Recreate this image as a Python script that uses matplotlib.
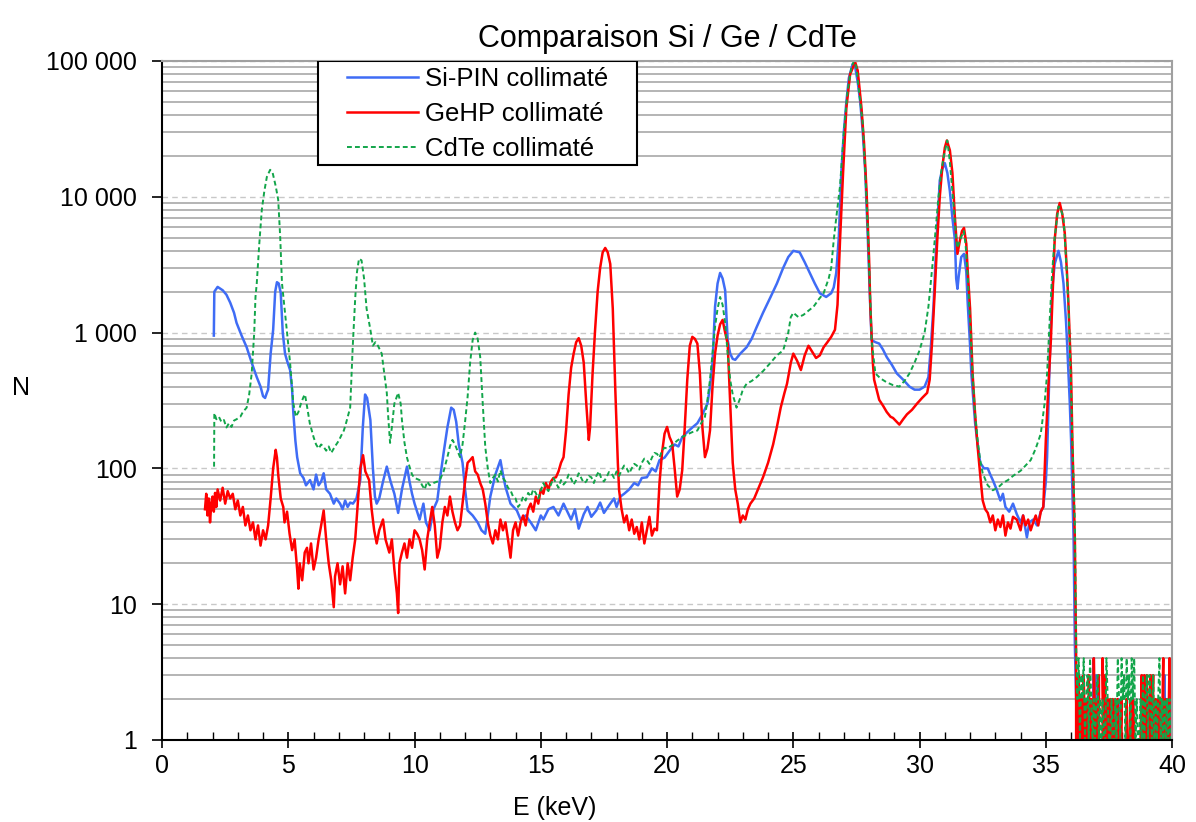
import numpy as np
import matplotlib
matplotlib.use('Agg')
import matplotlib.pyplot as plt
from matplotlib.patches import Rectangle
from matplotlib.ticker import MultipleLocator, LogLocator, FuncFormatter, NullFormatter

plt.rcParams['font.family'] = ['Liberation Sans', 'DejaVu Sans']

# Si-PIN collimaté (keV, coups)
e_si = [2.05, 2.07, 2.2, 2.4, 2.55, 2.7, 2.85, 2.95, 3.15, 3.35, 3.55, 3.75, 3.9, 4.0, 4.08, 4.15, 4.2,
        4.3, 4.4, 4.48, 4.55, 4.62, 4.7, 4.78, 4.87, 4.95, 5.07, 5.15, 5.2, 5.28, 5.35, 5.47, 5.6, 5.7,
        5.86, 6.0, 6.1, 6.2, 6.3, 6.4, 6.5, 6.65, 6.8, 6.9, 7.05, 7.15, 7.25, 7.35, 7.45, 7.56, 7.7,
        7.85, 7.95, 8.04, 8.12, 8.25, 8.35, 8.43, 8.5, 8.6, 8.75, 8.9, 9.05, 9.2, 9.35, 9.5, 9.7, 9.8,
        9.9, 10.0, 10.2, 10.35, 10.45, 10.6, 10.75, 10.9, 11.0, 11.15, 11.3, 11.45, 11.55, 11.65, 11.75,
        11.9, 12.0, 12.1, 12.3, 12.5, 12.65, 12.8, 12.9, 13.0, 13.2, 13.4, 13.5, 13.6, 13.8, 14.05, 14.2,
        14.4, 14.6, 14.8, 15.0, 15.1, 15.3, 15.5, 15.7, 15.9, 16.05, 16.2, 16.35, 16.5, 16.7, 16.85, 17.0,
        17.2, 17.35, 17.5, 17.75, 17.9, 18.0, 18.15, 18.3, 18.5, 18.7, 18.85, 19.0, 19.2, 19.4, 19.55,
        19.7, 19.9, 20.1, 20.3, 20.45, 20.6, 20.8, 21.0, 21.2, 21.4, 21.6, 21.7, 21.8, 21.9, 22.0, 22.1,
        22.2, 22.3, 22.4, 22.5, 22.6, 22.7, 22.9, 23.15, 23.35, 23.55, 23.8, 24.1, 24.35, 24.6, 24.8,
        25.0, 25.25, 25.45, 25.65, 25.85, 26.05, 26.3, 26.5, 26.6, 26.7, 26.8, 26.9, 27.0, 27.1, 27.2,
        27.35, 27.45, 27.55, 27.65, 27.75, 27.85, 27.95, 28.05, 28.1, 28.25, 28.4, 28.55, 28.7, 28.9,
        29.1, 29.35, 29.6, 29.8, 30.0, 30.2, 30.35, 30.45, 30.55, 30.65, 30.8, 30.9, 31.0, 31.1, 31.2,
        31.3, 31.4, 31.45, 31.5, 31.55, 31.65, 31.76, 31.85, 31.9, 32.0, 32.05, 32.2, 32.3, 32.4, 32.55,
        32.7, 32.8, 32.9, 33.05, 33.2, 33.3, 33.4, 33.55, 33.7, 33.85, 34.0, 34.1, 34.25, 34.35, 34.5,
        34.65, 34.8, 34.9, 35.0, 35.05, 35.15, 35.25, 35.35, 35.5, 35.6, 35.7, 35.8, 35.85, 35.95, 36.0,
        36.1, 36.15]
n_si = [950, 2000, 2170, 2050, 1900, 1660, 1400, 1180, 950, 780, 600, 470, 400, 340, 330, 360, 380,
        700, 1050, 2000, 2350, 2300, 1960, 1000, 700, 620, 530, 380, 255, 160, 121, 92, 85, 75,
        82, 70, 90, 75, 80, 92, 70, 65, 55, 60, 55, 50, 58, 52, 56, 55, 60,
        82, 200, 350, 330, 227, 100, 62, 55, 60, 80, 103, 80, 65, 47, 70, 103, 80,
        65, 55, 42, 55, 40, 35, 50, 58, 82, 130, 200, 280, 270, 220, 150,
        110, 70, 49, 45, 40, 35, 33, 45, 62, 90, 115, 90, 73, 55, 49, 42,
        45, 40, 35, 45, 42, 50, 52, 45, 55, 48, 42, 50, 36, 46, 52, 44,
        49, 56, 47, 55, 60, 52, 62, 65, 70, 78, 75, 85, 86, 100, 95,
        115, 120, 135, 150, 145, 170, 185, 200, 215, 250, 300, 400, 600, 1550, 2300, 2750,
        2500, 2050, 880, 700, 640, 630, 700, 780, 900, 1100, 1400, 1830, 2300, 3000, 3600,
        4000, 3900, 3300, 2750, 2300, 1950, 1830, 1950, 2150, 2750, 5000, 15000, 30000, 50000, 75000,
        95000, 90000, 70000, 50000, 30000, 15000, 5000, 1500, 880, 850, 830, 750, 660, 580,
        500, 450, 400, 380, 380, 400, 470, 800, 1550, 4000, 13200, 16000, 17700, 15000, 11000,
        7000, 4800, 2500, 2100, 2600, 3600, 3800, 2800, 1730, 800, 500, 215, 150, 110, 100,
        100, 90, 82, 70, 58, 65, 52, 48, 55, 46, 40, 45, 31, 40, 42,
        38, 48, 52, 80, 121, 600, 2050, 3200, 4000, 3300, 2300, 1200, 780, 300, 162,
        30, 5]
tail_si = [2, 1, 3, 0, 1, 2, 0, 1, 0, 1, 0, 1, 0, 1, 4, 0, 3, 1, 0, 1,
           0, 1, 0, 1, 0, 0, 1, 0, 1, 0, 1, 0, 1, 0, 0, 2, 0, 1, 0, 1,
           0, 1, 0, 2, 0, 2, 0, 1, 0, 1, 0, 1, 0, 1, 0, 1, 0, 1, 0, 1,
           0, 1, 0, 1, 0, 1, 0, 1, 0, 1, 3, 0, 2, 1, 0, 2, 1]

# GeHP collimaté
e_ge = [1.7, 1.75, 1.8, 1.85, 1.9, 1.95, 2.0, 2.05, 2.1, 2.15, 2.2, 2.3, 2.4, 2.5, 2.6, 2.7, 2.8, 2.9,
        3.0, 3.1, 3.2, 3.3, 3.4, 3.5, 3.6, 3.7, 3.8, 3.9, 4.0, 4.1, 4.2, 4.3, 4.4, 4.5, 4.55, 4.6, 4.7,
        4.8, 4.85, 4.95, 5.05, 5.15, 5.25, 5.35, 5.4, 5.45, 5.55, 5.65, 5.74, 5.8, 5.9, 6.0, 6.1, 6.2,
        6.3, 6.4, 6.5, 6.6, 6.7, 6.8, 6.85, 6.95, 7.05, 7.15, 7.25, 7.35, 7.45, 7.55, 7.65, 7.75, 7.85,
        7.96, 8.05, 8.2, 8.3, 8.4, 8.5, 8.6, 8.75, 8.85, 9.0, 9.1, 9.2, 9.3, 9.35, 9.4, 9.5, 9.6, 9.7,
        9.8, 9.9, 10.0, 10.1, 10.2, 10.3, 10.4, 10.5, 10.6, 10.7, 10.8, 10.9, 11.0, 11.1, 11.2, 11.3,
        11.4, 11.5, 11.6, 11.7, 11.8, 11.9, 12.0, 12.1, 12.2, 12.3, 12.4, 12.5, 12.6, 12.7, 12.8, 12.9,
        13.0, 13.1, 13.2, 13.3, 13.4, 13.5, 13.6, 13.7, 13.8, 13.9, 14.0, 14.1, 14.2, 14.3, 14.4, 14.5,
        14.6, 14.7, 14.8, 14.9, 15.0, 15.1, 15.2, 15.3, 15.4, 15.5, 15.6, 15.7, 15.8, 15.9, 16.0, 16.1,
        16.2, 16.3, 16.4, 16.5, 16.6, 16.7, 16.8, 16.9, 16.95, 17.05, 17.15, 17.25, 17.35, 17.45, 17.55,
        17.65, 17.75, 17.85, 17.95, 18.05, 18.1, 18.2, 18.3, 18.4, 18.5, 18.6, 18.7, 18.8, 18.9, 19.0,
        19.1, 19.2, 19.3, 19.4, 19.5, 19.6, 19.7, 19.8, 19.9, 20.0, 20.1, 20.2, 20.3, 20.4, 20.5, 20.6,
        20.7, 20.8, 20.9, 21.0, 21.1, 21.2, 21.3, 21.4, 21.5, 21.6, 21.7, 21.8, 21.9, 22.0, 22.1, 22.2,
        22.3, 22.4, 22.5, 22.6, 22.7, 22.8, 22.9, 23.0, 23.1, 23.2, 23.3, 23.45, 23.6, 23.8, 24.0, 24.2,
        24.35, 24.5, 24.65, 24.75, 24.9, 25.0, 25.15, 25.3, 25.45, 25.6, 25.75, 25.9, 26.05, 26.2, 26.35,
        26.5, 26.65, 26.75, 26.85, 26.97, 27.1, 27.25, 27.45, 27.55, 27.7, 27.8, 27.9, 28.0, 28.05,
        28.15, 28.2, 28.3, 28.4, 28.55, 28.7, 28.85, 28.95, 29.1, 29.2, 29.35, 29.5, 29.7, 29.9, 30.1,
        30.3, 30.4, 30.5, 30.6, 30.7, 30.8, 30.9, 31.0, 31.08, 31.2, 31.3, 31.4, 31.5, 31.6, 31.68,
        31.76, 31.85, 31.9, 32.0, 32.1, 32.2, 32.3, 32.4, 32.5, 32.6, 32.7, 32.8, 32.9, 33.0, 33.1,
        33.2, 33.3, 33.4, 33.5, 33.6, 33.7, 33.85, 34.0, 34.1, 34.2, 34.3, 34.4, 34.5, 34.6, 34.7,
        34.8, 34.9, 35.0, 35.1, 35.2, 35.35, 35.45, 35.55, 35.65, 35.75, 35.85, 35.9, 36.0, 36.05, 36.15]
n_ge = [50, 65, 45, 60, 40, 55, 62, 48, 66, 52, 70, 58, 72, 55, 68, 60, 65, 50,
        58, 45, 52, 38, 45, 35, 40, 30, 38, 27, 35, 30, 38, 60, 100, 137, 120, 90, 60,
        52, 40, 48, 33, 25, 30, 18, 13, 20, 15, 24, 26, 20, 28, 18, 22, 30,
        38, 49, 30, 20, 15, 9.5, 16, 20, 14, 19, 12, 20, 15, 22, 30, 55, 100,
        125, 95, 82, 50, 35, 28, 35, 42, 30, 24, 30, 18, 12, 8.6, 20, 24, 28, 22,
        30, 26, 35, 33, 30, 25, 18, 30, 40, 52, 38, 22, 26, 40, 52, 45,
        62, 48, 40, 35, 38, 55, 80, 110, 115, 121, 95, 90, 78, 70, 55, 40,
        32, 28, 35, 30, 42, 35, 40, 30, 22, 35, 40, 32, 40, 45, 38, 50,
        55, 48, 62, 55, 70, 65, 78, 70, 80, 85, 86, 95, 110, 121, 190, 350,
        550, 700, 850, 910, 800, 600, 300, 162, 200, 500, 1050, 2000, 3000, 3900, 4200,
        3900, 3200, 1500, 380, 110, 69, 50, 40, 45, 35, 42, 33, 37, 30, 40,
        28, 35, 44, 32, 36, 35, 78, 130, 180, 202, 170, 154, 100, 62, 70, 97,
        200, 450, 800, 930, 900, 830, 500, 200, 121, 140, 190, 400, 700, 950, 1150, 1240,
        1000, 830, 300, 110, 70, 55, 40, 45, 42, 50, 55, 60, 70, 86, 110, 150,
        202, 280, 360, 420, 600, 700, 620, 530, 680, 800, 720, 650, 680, 780, 850,
        930, 1050, 1600, 4800, 15000, 45000, 80000, 98000, 85000, 45000, 25000, 11000, 3500, 1550,
        600, 450, 380, 320, 290, 260, 240, 235, 220, 210, 230, 250, 270, 300, 330,
        360, 450, 880, 2000, 4800, 10000, 16500, 23000, 26000, 22000, 15000, 7000, 3800, 4800, 5600,
        5900, 4500, 3000, 1500, 500, 250, 144, 90, 58, 50, 47, 40, 45, 35, 42,
        37, 45, 32, 40, 36, 44, 42, 35, 45, 38, 42, 35, 40, 45, 38,
        48, 52, 162, 400, 880, 4800, 7500, 9000, 7500, 5400, 2500, 1550, 500, 162, 30]
tail_ge = [4, 0, 3, 1, 2, 0, 3, 1, 2, 0, 3, 1, 2, 0, 4, 1, 2, 0, 3, 0,
           0, 4, 1, 3, 0, 2, 1, 2, 0, 2, 1, 2, 0, 2, 0, 1, 2, 0, 1, 0,
           2, 0, 1, 2, 0, 2, 1, 0, 1, 0, 0, 1, 3, 0, 3, 1, 3, 0, 2, 3,
           1, 3, 0, 2, 1, 2, 0, 2, 1, 4, 0, 2, 0, 1, 4, 0, 1]

# CdTe collimaté
e_cd = [2.06, 2.07, 2.15, 2.25, 2.35, 2.45, 2.55, 2.65, 2.75, 2.85, 2.95, 3.1, 3.2, 3.35, 3.45, 3.55,
        3.65, 3.7, 3.75, 3.85, 3.95, 4.05, 4.15, 4.28, 4.38, 4.5, 4.6, 4.68, 4.75, 4.87, 4.95, 5.07,
        5.2, 5.3, 5.4, 5.5, 5.6, 5.66, 5.75, 5.85, 6.0, 6.1, 6.2, 6.3, 6.4, 6.5, 6.6, 6.7, 6.8, 6.9,
        7.0, 7.1, 7.2, 7.3, 7.45, 7.55, 7.65, 7.72, 7.8, 7.9, 8.0, 8.1, 8.25, 8.35, 8.45, 8.55, 8.7,
        8.8, 8.9, 8.95, 9.03, 9.1, 9.2, 9.35, 9.45, 9.5, 9.6, 9.7, 9.8, 9.9, 10.0, 10.2, 10.3, 10.4,
        10.5, 10.6, 10.75, 10.9, 11.0, 11.15, 11.3, 11.4, 11.5, 11.6, 11.7, 11.8, 11.9, 12.0, 12.1,
        12.2, 12.3, 12.4, 12.5, 12.6, 12.7, 12.8, 12.9, 13.0, 13.1, 13.2, 13.3, 13.4, 13.5, 13.6, 13.7,
        13.8, 13.9, 14.0, 14.1, 14.2, 14.3, 14.4, 14.5, 14.6, 14.7, 14.8, 14.9, 15.0, 15.1, 15.2, 15.3,
        15.4, 15.5, 15.6, 15.7, 15.8, 15.9, 16.0, 16.1, 16.2, 16.3, 16.4, 16.5, 16.6, 16.7, 16.8, 16.9,
        17.0, 17.1, 17.2, 17.3, 17.4, 17.5, 17.6, 17.7, 17.8, 17.9, 18.0, 18.1, 18.2, 18.3, 18.4, 18.5,
        18.6, 18.7, 18.8, 18.9, 19.0, 19.1, 19.2, 19.3, 19.4, 19.5, 19.6, 19.7, 19.8, 19.9, 20.0, 20.2,
        20.4, 20.6, 20.8, 21.0, 21.2, 21.35, 21.5, 21.6, 21.7, 21.8, 21.9, 22.0, 22.1, 22.2, 22.3, 22.4,
        22.5, 22.6, 22.75, 22.9, 23.0, 23.15, 23.35, 23.55, 23.8, 24.1, 24.35, 24.6, 24.8, 24.9, 25.0,
        25.2, 25.4, 25.6, 25.8, 26.0, 26.2, 26.4, 26.5, 26.6, 26.7, 26.85, 27.0, 27.15, 27.3, 27.4,
        27.5, 27.6, 27.75, 27.85, 27.97, 28.1, 28.25, 28.45, 28.7, 28.95, 29.2, 29.4, 29.6, 29.8, 30.0,
        30.2, 30.35, 30.5, 30.6, 30.75, 30.85, 30.95, 31.1, 31.2, 31.3, 31.35, 31.45, 31.5, 31.6, 31.75,
        31.82, 31.9, 32.0, 32.1, 32.2, 32.3, 32.4, 32.5, 32.7, 32.9, 33.1, 33.3, 33.5, 33.7, 33.85,
        34.0, 34.2, 34.4, 34.6, 34.8, 34.95, 35.05, 35.15, 35.25, 35.35, 35.5, 35.6, 35.7, 35.8, 35.9,
        36.0, 36.05, 36.15]
n_cd = [103, 255, 230, 240, 220, 227, 200, 215, 202, 225, 230, 240, 260, 280, 350, 500,
        1000, 1830, 2300, 4500, 8000, 11000, 14000, 15800, 15000, 12000, 9500, 5000, 2300, 1400, 1000, 600,
        300, 240, 260, 300, 335, 350, 280, 215, 170, 150, 140, 150, 144, 135, 145, 130, 140, 150,
        160, 175, 190, 220, 280, 780, 1800, 2800, 3500, 3400, 2500, 1500, 1050, 800, 850, 800, 700,
        500, 360, 250, 154, 200, 300, 360, 300, 227, 155, 120, 103, 90, 85, 82, 75, 70,
        80, 75, 78, 80, 82, 95, 121, 145, 162, 150, 135, 121, 150, 220, 335,
        600, 880, 1000, 900, 660, 300, 144, 100, 78, 85, 90, 80, 97, 85, 80, 72,
        69, 62, 60, 52, 55, 62, 58, 66, 62, 70, 66, 60, 69, 78, 72, 68,
        76, 85, 78, 72, 82, 76, 80, 90, 84, 76, 82, 92, 85, 78, 80, 88,
        86, 78, 88, 95, 84, 80, 86, 94, 92, 85, 95, 88, 97, 105, 100, 92,
        100, 108, 105, 98, 110, 118, 115, 108, 120, 130, 128, 120, 135, 142, 140, 148,
        160, 170, 178, 185, 190, 215, 240, 320, 450, 700, 1100, 1500, 1830, 1600, 1180, 700,
        450, 350, 280, 330, 380, 420, 440, 470, 520, 600, 680, 740, 1000, 1300, 1400,
        1300, 1350, 1450, 1550, 1750, 1950, 2500, 3000, 4800, 7000, 12000, 30000, 60000, 90000, 100000,
        90000, 60000, 35000, 15000, 4800, 880, 500, 460, 430, 410, 400, 440, 500, 600, 740,
        1000, 1550, 3000, 4800, 10000, 15000, 19500, 26000, 18000, 11000, 8500, 5000, 4200, 4800, 5600,
        4500, 2750, 1200, 500, 250, 160, 115, 92, 75, 69, 72, 78, 82, 88, 92,
        96, 105, 115, 140, 180, 300, 500, 1200, 2750, 5000, 8500, 8000, 7000, 3500, 1550,
        400, 162, 40]
tail_cd = [5, 2, 4, 1, 3, 2, 4, 1, 2, 3, 1, 4, 2, 1, 2, 1, 2, 3, 1, 2,
           1, 2, 1, 1, 4, 2, 1, 1, 2, 1, 1, 2, 1, 4, 2, 1, 4, 2, 3, 1,
           4, 2, 3, 1, 4, 2, 4, 1, 2, 1, 1, 2, 1, 3, 1, 2, 3, 1, 3, 2,
           1, 3, 1, 2, 1, 2, 4, 1, 2, 1, 2, 1, 2, 1, 2, 1, 1]

tail_start, tail_end = 36.2, 40.0

fig = plt.figure(figsize=(11.96, 8.22), dpi=100)
ax = fig.add_axes([0.1355, 0.0998, 0.8445, 0.826])

series = [
    ('Si-PIN collimaté', e_si, n_si, tail_si, '#3f6cf5', '-', 1.8),
    ('GeHP collimaté', e_ge, n_ge, tail_ge, '#ff0000', '-', 1.8),
    ('CdTe collimaté', e_cd, n_cd, tail_cd, '#12a54a', (0, (2.5, 1.6)), 1.4),
]
for label, e, n, tail, color, ls, lw in series:
    e_tail = np.linspace(tail_start, tail_end, len(tail))
    x = np.concatenate([e, e_tail])
    y = np.concatenate([n, tail]).astype(float)
    ax.plot(x, y, color=color, ls=ls, lw=lw, label=label)

ax.set_yscale('log', nonpositive='clip')
ax.set_xlim(0, 40)
ax.set_ylim(1, 100000)

ax.xaxis.set_major_locator(MultipleLocator(5))
ax.xaxis.set_minor_locator(MultipleLocator(1))
ax.yaxis.set_major_locator(LogLocator(base=10, numticks=10))
ax.yaxis.set_minor_locator(LogLocator(base=10, subs=np.arange(2, 10), numticks=20))
ax.yaxis.set_major_formatter(FuncFormatter(lambda v, p: f'{int(round(v)):,}'.replace(',', ' ')))
ax.yaxis.set_minor_formatter(NullFormatter())

ax.grid(True, which='major', axis='y', color='#c8c8c8', ls=(0, (4, 3)), lw=1.0)
ax.grid(True, which='minor', axis='y', color='#b4b4b4', ls='-', lw=1.4)
ax.set_axisbelow(True)

ax.tick_params(axis='x', which='major', direction='inout', length=12, width=1.2, labelsize=18, pad=4)
ax.tick_params(axis='x', which='minor', direction='in', length=6, width=1.0)
ax.tick_params(axis='y', which='major', direction='out', length=7, width=1.2, labelsize=18, pad=11)
ax.tick_params(axis='y', which='minor', length=0)

for side in ['left', 'bottom']:
    ax.spines[side].set_color('black')
    ax.spines[side].set_linewidth(1.5)
for side in ['top', 'right']:
    ax.spines[side].set_color('#a0a0a0')
    ax.spines[side].set_linewidth(1.5)

ax.set_title('Comparaison Si / Ge / CdTe', fontsize=22, pad=10)
ax.set_xlabel('E (keV)', fontsize=18)
ax.xaxis.set_label_coords(0.389, -0.083)
ax.set_ylabel('N', fontsize=18, rotation=0)
ax.yaxis.set_label_coords(-0.14, 0.5)

# cadre de légende dessiné à part (marge gauche plus large que le haut)
ax.add_patch(Rectangle((0.1545, 0.847), 0.3155, 0.153, transform=ax.transAxes,
                       facecolor='white', edgecolor='black', lw=1.5, zorder=5))
leg = ax.legend(loc='upper left', bbox_to_anchor=(0.178, 0.998), fontsize=18.5, frameon=False,
                borderpad=0.2, handlelength=2.75, handletextpad=0.3, labelspacing=0.42,
                borderaxespad=0)
leg.set_zorder(6)

fig.savefig('out.png', dpi=100)
